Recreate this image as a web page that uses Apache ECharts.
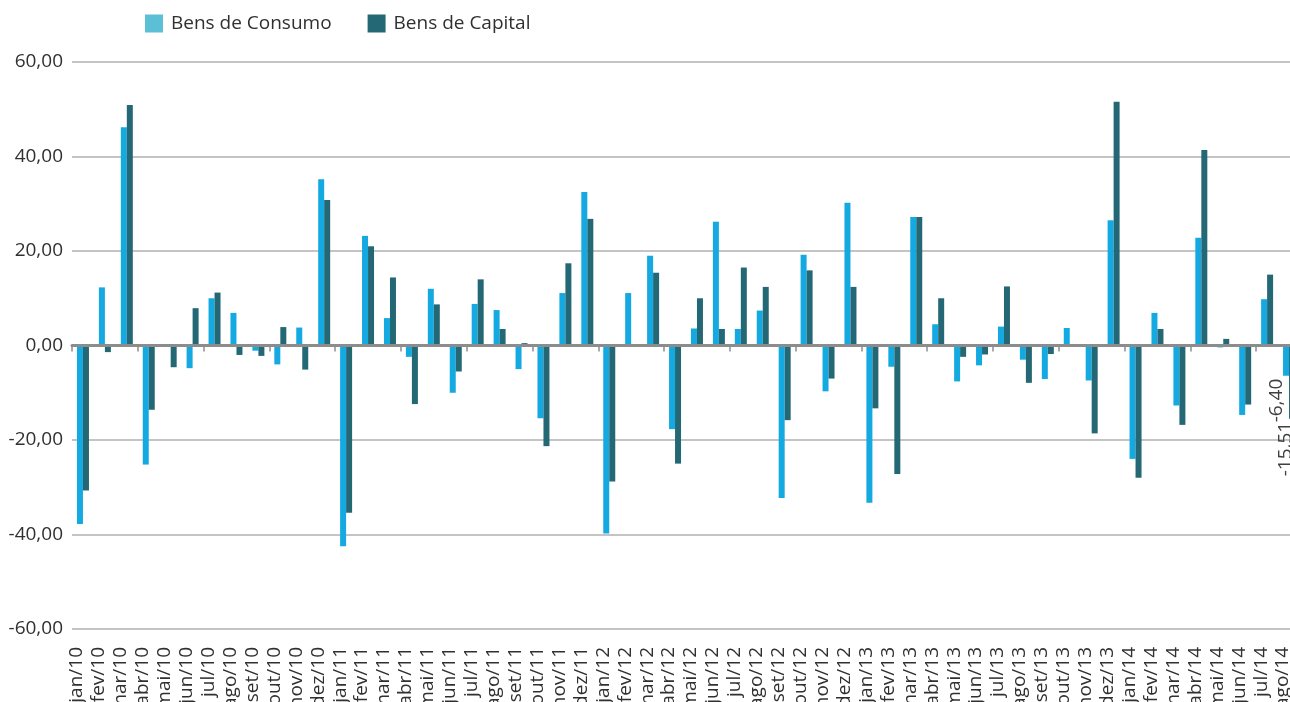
<!DOCTYPE html>
<html>
<head>
<meta charset="utf-8">
<script src="https://cdn.jsdelivr.net/npm/echarts@6/dist/echarts.min.js"></script>
<style>
html,body{margin:0;padding:0;background:#fff;}
#chart{width:1290px;height:702px;}
</style>
</head>
<body>
<div id="chart"></div>
<script>
var categories = [
  'jan/10','fev/10','mar/10','abr/10','mai/10','jun/10','jul/10','ago/10','set/10','out/10','nov/10','dez/10',
  'jan/11','fev/11','mar/11','abr/11','mai/11','jun/11','jul/11','ago/11','set/11','out/11','nov/11','dez/11',
  'jan/12','fev/12','mar/12','abr/12','mai/12','jun/12','jul/12','ago/12','set/12','out/12','nov/12','dez/12',
  'jan/13','fev/13','mar/13','abr/13','mai/13','jun/13','jul/13','ago/13','set/13','out/13','nov/13','dez/13',
  'jan/14','fev/14','mar/14','abr/14','mai/14','jun/14','jul/14','ago/14'
];
var bensConsumo = [
  -37.8, 12.3, 46.2, -25.2, -0.3, -4.8, 10.0, 6.9, -1.1, -4.0, 3.8, 35.2,
  -42.5, 23.2, 5.8, -2.4, 12.0, -10.0, 8.8, 7.5, -5.0, -15.4, 11.1, 32.5,
  -39.8, 11.1, 19.0, -17.7, 3.6, 26.2, 3.5, 7.4, -32.3, 19.2, -9.7, 30.2,
  -33.3, -4.5, 27.2, 4.5, -7.6, -4.2, 4.0, -3.0, -7.1, 3.7, -7.4, 26.5,
  -24.0, 6.9, -12.7, 22.8, -0.4, -14.7, 9.8, -6.40
];
var bensCapital = [
  -30.7, -1.4, 50.9, -13.6, -4.6, 7.9, 11.2, -2.0, -2.2, 3.9, -5.1, 30.8,
  -35.4, 21.0, 14.4, -12.4, 8.7, -5.5, 14.0, 3.5, 0.5, -21.3, 17.4, 26.8,
  -28.8, -0.3, 15.4, -25.0, 10.0, 3.5, 16.5, 12.4, -15.8, 15.9, -7.0, 12.4,
  -13.3, -27.2, 27.2, 10.0, -2.4, -1.9, 12.5, -7.9, -1.8, 0.3, -18.6, 51.6,
  -28.0, 3.5, -16.8, 41.4, 1.4, -12.5, 15.0, -15.51
];
var yTicks = { min: -60, max: 60, interval: 20 };

var FONT = '"Open Sans", "Noto Sans", sans-serif';
var colConsumo = '#14AAE1';
var colCapital = '#256875';

function fmt(v) { return Number(v).toFixed(2).replace('.', ','); }

function buildData(arr, shift) {
  return arr.map(function (v, i) {
    if (i === arr.length - 1) {
      return {
        value: v,
        label: {
          show: true,
          position: 'bottom',
          rotate: 90,
          align: 'right',
          verticalAlign: 'middle',
          distance: 3,
          offset: [0, shift],
          fontFamily: FONT,
          fontSize: 19,
          color: '#404040',
          formatter: function (p) { return fmt(p.value); }
        }
      };
    }
    return v;
  });
}

var chart = echarts.init(document.getElementById('chart'), null, { renderer: 'canvas' });
chart.setOption({
  animation: false,
  backgroundColor: '#ffffff',
  legend: {
    left: 145,
    top: 14,
    padding: 0,
    itemWidth: 18,
    itemHeight: 18,
    itemGap: 36,
    icon: 'rect',
    textStyle: { fontFamily: FONT, fontSize: 19, color: '#303030', padding: [0, 0, 0, 3] },
    data: [
      { name: 'Bens de Consumo', itemStyle: { color: '#5BC0D5' } },
      { name: 'Bens de Capital', itemStyle: { color: colCapital } }
    ]
  },
  grid: { left: 72, width: 1228, top: 62, bottom: 73, containLabel: false, outerBoundsMode: 'none' },
  xAxis: [
    {
      type: 'category',
      data: categories,
      position: 'bottom',
      axisLine: { onZero: true, lineStyle: { color: '#8C8C8C', width: 3 } },
      axisTick: { show: true, length: 6, lineStyle: { color: '#8C8C8C', width: 1.5 } },
      axisLabel: { show: false },
      splitLine: { show: false },
      z: 5
    },
    {
      type: 'category',
      data: categories,
      position: 'bottom',
      axisLine: { show: false, onZero: false },
      axisTick: { show: false },
      axisLabel: {
        interval: 0,
        rotate: 90,
        margin: 18,
        fontFamily: FONT,
        fontSize: 19,
        color: '#303030',
        verticalAlign: 'bottom',
        lineHeight: 12
      },
      splitLine: { show: false }
    }
  ],
  yAxis: {
    type: 'value',
    min: yTicks.min,
    max: yTicks.max,
    interval: yTicks.interval,
    axisLine: { show: false },
    axisTick: { show: false },
    axisLabel: {
      margin: 9,
      fontFamily: FONT,
      fontSize: 19,
      color: '#303030',
      formatter: function (v) { return fmt(v); }
    },
    splitLine: { lineStyle: { color: '#C4C4C4', width: 2 } }
  },
  series: [
    {
      name: 'Bens de Consumo',
      type: 'bar',
      xAxisIndex: 0,
      barWidth: 6,
      barGap: '0%',
      itemStyle: { color: colConsumo },
      data: buildData(bensConsumo, -9)
    },
    {
      name: 'Bens de Capital',
      type: 'bar',
      xAxisIndex: 0,
      barWidth: 6,
      barGap: '0%',
      itemStyle: { color: colCapital },
      data: buildData(bensCapital, -6)
    }
  ]
});
</script>
</body>
</html>
